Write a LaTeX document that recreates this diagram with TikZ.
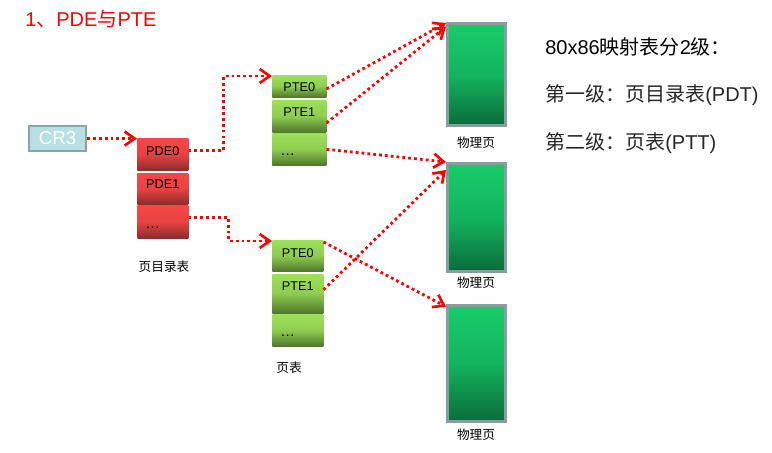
\documentclass[tikz,border=0pt]{standalone}
\usepackage{fontspec}
\setmainfont{Liberation Sans}
\newfontfamily\cjk{Noto Sans CJK SC}
\usepackage{xcolor}
\usetikzlibrary{arrows.meta}
\definecolor{pde-top}{HTML}{F84646}
\definecolor{pde-bottom}{HTML}{8C2C2C}
\definecolor{pte-top}{HTML}{9DE15A}
\definecolor{pte-bottom}{HTML}{50782B}
\definecolor{page-top}{HTML}{17CC69}
\definecolor{page-bottom}{HTML}{0B6C3B}
\definecolor{page-border}{HTML}{879D9F}
\definecolor{cr-fill}{HTML}{B8E0E4}
\definecolor{cr-border}{HTML}{8AA3A6}
\tikzset{
    cell/.style = {rectangle, inner sep=0pt, anchor=north west, font=\fontsize{9.5}{11}\selectfont},
    pde-cell/.style = {cell, top color=pde-top, bottom color=pde-bottom, middle color=pde-top!85!pde-bottom, minimum width=38.25pt},
    pte-cell/.style = {cell, top color=pte-top, bottom color=pte-bottom, middle color=pte-top!80!pte-bottom},
    dots-cell/.style = {inner xsep=6pt, text width=#1, align=left, font=\fontsize{11}{13}\selectfont},
    page-box/.style = {rectangle, anchor=north west, draw=page-border, line width=2pt, top color=page-top, bottom color=page-bottom, middle color=page-top!75!page-bottom, minimum width=43.5pt},
    cjk-label/.style = {font=\cjk\fontsize{9.5}{11}\selectfont},
    side-text/.style = {anchor=west, inner sep=0pt, font=\fontsize{15}{18}\selectfont},
    dot-arrow/.style = {red, line width=2.1pt, dash pattern=on 2.1pt off 2.3pt, -{Straight Barb[length=7.5pt,width=10.5pt,line width=2pt]}},
}

\begin{document}
\begin{tikzpicture}[x=0.75pt, y=-0.75pt]
\useasboundingbox (0,0) rectangle (772,453);

\node[anchor=west, red, font=\fontsize{15}{18}\selectfont, inner sep=0pt] (title) at (25,19) {1{\cjk 、}PDE{\cjk 与}PTE};

\node[rectangle, anchor=north west, fill=cr-fill, draw=cr-border, line width=1.6pt, minimum width=42.75pt, minimum height=18.75pt, text=white, font=\fontsize{14}{16}\selectfont, inner sep=0pt] (cr3) at (28,125) {CR3};

\node[pde-cell, minimum height=24pt, text height=12.75pt, text depth=11.25pt] (pde0) at (137,138) {PDE0};
\node[pde-cell, minimum height=23.25pt, text height=11.25pt, text depth=12pt] (pde1) at (137,173) {PDE1};
\node[pde-cell, dots-cell=26.25pt, minimum height=24.75pt, text height=17.25pt, text depth=7.5pt] (pde-dots) at (137,205) {\dots};
\node[cjk-label] (pdt-label) at (164,267) {页目录表};

\node[pte-cell, minimum width=40.5pt, minimum height=16.5pt, text height=12pt, text depth=4.5pt] (pte-a0) at (272,75) {PTE0};
\node[pte-cell, minimum width=40.5pt, minimum height=24pt, text height=12pt, text depth=12pt] (pte-a1) at (272,100) {PTE1};
\node[pte-cell, dots-cell=28.5pt, minimum height=24pt, text height=16.5pt, text depth=7.5pt] (pte-a-dots) at (272,133) {\dots};

\node[pte-cell, minimum width=38.25pt, minimum height=23.25pt, text height=12.75pt, text depth=10.5pt] (pte-b0) at (272,240) {PTE0};
\node[pte-cell, minimum width=38.25pt, minimum height=29.25pt, text height=12pt, text depth=17.25pt] (pte-b1) at (272,274) {PTE1};
\node[pte-cell, dots-cell=26.25pt, minimum height=24pt, text height=16.5pt, text depth=7.5pt] (pte-b-dots) at (272,314) {\dots};
\node[cjk-label] (ptt-label) at (289,368) {页表};

\node[page-box, minimum height=76.5pt] (page-a) at (446,22) {};
\node[page-box, minimum height=81pt] (page-b) at (446,162) {};
\node[page-box, minimum height=87pt] (page-c) at (446,304) {};
\node[cjk-label] (page-a-label) at (476,143) {物理页};
\node[cjk-label] (page-b-label) at (476,283) {物理页};
\node[cjk-label] (page-c-label) at (476,435) {物理页};

\node[side-text] (levels) at (545,47) {80x86{\cjk 映射表分}2{\cjk 级：}};
\node[side-text, text=black!85] (level-one) at (545,95) {{\cjk 第一级：页目录表}(PDT)};
\node[side-text, text=black!85] (level-two) at (545,143) {{\cjk 第二级：页表}(PTT)};

\draw[dot-arrow] (cr3.east) -- (cr3.east -| pde0.west);
\draw[dot-arrow] ([yshift=3pt]pde0.east) -- ++(35,0) |- ([yshift=-0.75pt]pte-a0.north west);
\draw[dot-arrow] ([yshift=3pt]pde-dots.east) -- ++(40,0) |- ([yshift=-0.75pt]pte-b0.north west);
\draw[dot-arrow] ([yshift=-2pt]pte-a0.east) -- ([yshift=-0.75pt]page-a.north west);
\draw[dot-arrow] ([yshift=-5pt]pte-a1.east) -- ([yshift=-3.5pt]page-a.north west);
\draw[dot-arrow] (pte-a-dots.east) -- (page-b.north west);
\draw[dot-arrow] ([yshift=-1.5pt]pte-b0.north east) -- ([yshift=-2pt]page-c.north west);
\draw[dot-arrow] ([yshift=3pt]pte-b1.east) -- ([yshift=-6pt]page-b.north west);
\end{tikzpicture}
\end{document}
